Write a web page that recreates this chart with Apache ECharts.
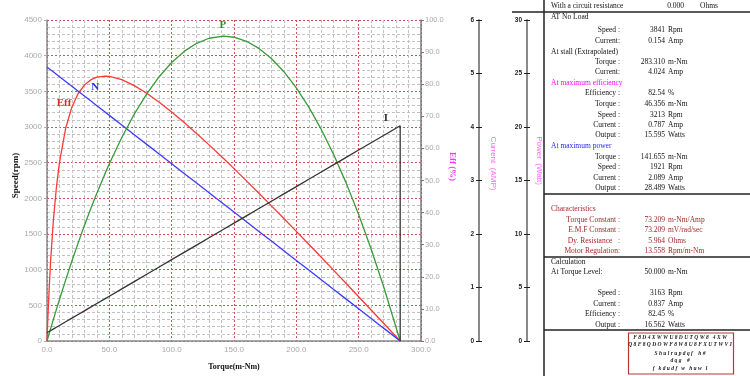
<!DOCTYPE html>
<html>
<head>
<meta charset="utf-8">
<script src="https://cdn.jsdelivr.net/npm/echarts@6/dist/echarts.min.js"></script>
<style>
  html, body { margin: 0; padding: 0; background: #fff; }
  #chart { width: 750px; height: 376px; }
</style>
</head>
<body>
<div id="chart"></div>
<script>
// torque samples (m-Nm) and the curves read at them
const torque = [0, 0.5, 1, 2, 3, 5, 7.5, 10, 15, 20, 25, 30, 35, 40, 46.356, 50, 60, 70, 80, 90, 100,
  110, 120, 130, 141.655, 150, 160, 170, 180, 190, 200, 210, 220, 230, 240, 250, 260, 270, 283.31];
const speed = [3841, 3834.2, 3827.4, 3813.9, 3800.3, 3773.2, 3739.3, 3705.4, 3637.6, 3569.8, 3502.1,
  3434.3, 3366.5, 3298.7, 3212.5, 3163.1, 3027.5, 2891.9, 2756.4, 2620.8, 2485.2, 2349.6, 2214.0,
  2078.5, 1920.5, 1807.3, 1671.7, 1536.1, 1400.6, 1265.0, 1129.4, 993.8, 858.2, 722.7, 587.1, 451.5,
  315.9, 180.3, 0];
const current = [0.154, 0.1608, 0.1677, 0.1813, 0.1950, 0.2223, 0.2564, 0.2906, 0.3589, 0.4272, 0.4955,
  0.5638, 0.6321, 0.7004, 0.7872, 0.8370, 0.9736, 1.1102, 1.2468, 1.3834, 1.5199, 1.6565, 1.7931,
  1.9297, 2.0889, 2.2029, 2.3395, 2.4761, 2.6127, 2.7493, 2.8859, 3.0225, 3.1591, 3.2957, 3.4323,
  3.5689, 3.7055, 3.8421, 4.024];
const power = [0, 0.2008, 0.4008, 0.7988, 1.1939, 1.9756, 2.9369, 3.8803, 5.714, 7.4766, 9.1685,
  10.789, 12.339, 13.818, 15.595, 16.562, 19.022, 21.199, 23.092, 24.701, 26.025, 27.066, 27.822,
  28.296, 28.489, 28.389, 28.010, 27.346, 26.401, 25.170, 23.654, 21.855, 19.772, 17.407, 14.755,
  11.820, 8.601, 5.098, 0];
const efficiency = [0, 5.2, 9.96, 18.35, 25.51, 37.03, 47.72, 55.64, 66.34, 72.92, 77.10, 79.74, 81.34,
  82.20, 82.54, 82.45, 81.41, 79.56, 77.17, 74.40, 71.35, 68.08, 64.65, 61.10, 56.83, 53.70, 49.89,
  46.01, 42.10, 38.15, 34.15, 30.13, 26.08, 22.01, 17.91, 13.80, 9.67, 5.53, 0];

// curve tags: [torque, value on the curve's own axis]
const tagEff = [13.7, 74];
const tagN = [38.7, 3556];
const tagP = [141, 29.5];
const tagI = [271.8, 4.17];

// right hand report panel
const headRow = ['With a circuit resistance', '0.000', 'Ohms'];
const panelRows = [
  // [y, kind, label, number, unit]
  [17.3, 'head', 'AT No Load'],
  [30.5, 'row', 'Speed :', '3841', 'Rpm'],
  [41.5, 'row', 'Current:', '0.154', 'Amp'],
  [51.7, 'head', 'At stall (Extrapolated)'],
  [62.3, 'row', 'Torque :', '283.310', 'm-Nm'],
  [72.3, 'row', 'Current:', '4.024', 'Amp'],
  [83.3, 'eff', 'At maximum efficiency'],
  [93.3, 'row', 'Efficiency :', '82.54', '%'],
  [104, 'row', 'Torque :', '46.356', 'm-Nm'],
  [115, 'row', 'Speed :', '3213', 'Rpm'],
  [125.5, 'row', 'Current :', '0.787', 'Amp'],
  [135, 'row', 'Output :', '15.595', 'Watts'],
  [145.7, 'pow', 'At maximum power'],
  [156.7, 'row', 'Torque :', '141.655', 'm-Nm'],
  [167.3, 'row', 'Speed :', '1921', 'Rpm'],
  [177.7, 'row', 'Current :', '2.089', 'Amp'],
  [188.3, 'row', 'Output :', '28.489', 'Watts'],
  [209.3, 'char', 'Characteristics'],
  [220, 'crow', 'Torque Constant :', '73.209', 'm-Nm/Amp'],
  [230, 'crow', 'E.M.F Constant :', '73.209', 'mV/rad/sec'],
  [240.7, 'crow', 'Dy. Resistance   :', '5.964', 'Ohms'],
  [251.3, 'crow', 'Motor Regulation:', '13.558', 'Rpm/m-Nm'],
  [262.5, 'head', 'Calculation'],
  [272.3, 'lrow', 'At Torque Level:', '50.000', 'm-Nm'],
  [293.3, 'row', 'Speed :', '3163', 'Rpm'],
  [304, 'row', 'Current :', '0.837', 'Amp'],
  [314, 'row', 'Efficiency :', '82.45', '%'],
  [324.7, 'row', 'Output :', '16.562', 'Watts']
];
const boxLines = [
  'F 8 D 4 X W W U 8 D U T Q W 8   4 X W',
  'Q 8 F 8 Q D O W F 8 W 8 U 8 F X U T W V I',
  'S h u l r u p d q f    h #',
  'd q g    #',
  'f   k d u d f   w   h u w   l'
];

const serif = '"Liberation Serif", "DejaVu Serif", serif';
const sans = '"Liberation Sans", Arial, sans-serif';
const headColors = { head: '#111', eff: '#ff00ff', pow: '#1f1fff', char: '#a02828' };

const graphic = [];
function txt(x, y, text, fill, align, font) {
  graphic.push({
    type: 'text', x: x, y: y, silent: true,
    style: { text: text, fill: fill, align: align, verticalAlign: 'middle', font: font }
  });
}
function hline(x1, x2, y) {
  graphic.push({ type: 'line', silent: true, shape: { x1: x1, y1: y, x2: x2, y2: y },
    style: { stroke: '#222', lineWidth: 1.4 } });
}
const pf = '7.5px ' + serif;
txt(551, 5.7, headRow[0], '#111', 'left', pf);
txt(684, 5.7, headRow[1], '#111', 'right', pf);
txt(700, 5.7, headRow[2], '#111', 'left', pf);
panelRows.forEach(function (r) {
  const y = r[0], kind = r[1];
  if (headColors[kind]) { txt(551, y, r[2], headColors[kind], 'left', pf); return; }
  const col = kind === 'crow' ? '#a02828' : '#111';
  if (kind === 'lrow') txt(551, y, r[2], col, 'left', pf);
  else txt(620, y, r[2], col, 'right', pf);
  txt(665, y, r[3], col, 'right', pf);
  txt(668, y, r[4], col, 'left', pf);
});
graphic.push({ type: 'line', silent: true, shape: { x1: 544, y1: 0, x2: 544, y2: 376 },
  style: { stroke: '#222', lineWidth: 1.5 } });
hline(512, 750, 12);
hline(544, 750, 194);
hline(544, 750, 257);
hline(544, 750, 330);
graphic.push({ type: 'rect', silent: true, shape: { x: 628.5, y: 333, width: 105, height: 41 },
  style: { fill: null, stroke: '#b03a3a', lineWidth: 1.2 } });
const boxY = [337.3, 345, 353.3, 360.7, 368.3];
boxLines.forEach(function (t, i) {
  txt(680, boxY[i], t, '#222', 'center', 'italic bold 5.5px ' + serif);
});

function pairs(ys) { return torque.map(function (t, i) { return [t, ys[i]]; }); }
const currentData = pairs(current);
currentData.push([torque[torque.length - 1], 0]);

function tag(coord, text, color) {
  return {
    silent: true, symbol: 'rect', symbolSize: 1, itemStyle: { color: 'rgba(0,0,0,0)' },
    label: { show: true, position: 'inside', formatter: text, color: color,
      fontFamily: serif, fontSize: 11, fontWeight: 'bold' },
    data: [{ coord: coord }]
  };
}

const grayLabel = { color: '#a8a8a8', fontSize: 8, fontFamily: sans };
const minorGrid = { show: true, lineStyle: { color: '#c2c2c2', type: [3, 2], width: 1 } };
const majorGrid = { show: true, lineStyle: { color: '#d05050', type: [2, 2], width: 1 } };

function sideAxis(offset, max, interval, name, gap, pad, withLabel) {
  return {
    type: 'value', position: 'right', offset: offset, min: 0, max: max, interval: interval,
    name: withLabel ? name : '', nameLocation: 'middle', nameRotate: -90, nameGap: gap,
    nameTextStyle: { color: '#ff66ff', fontSize: 8, fontFamily: sans, padding: [0, pad, 0, 0] },
    axisLine: { show: withLabel, lineStyle: { color: '#8a8a8a', width: 2 } },
    axisTick: { show: true, inside: !withLabel, length: 3, lineStyle: { color: '#222' } },
    axisLabel: { show: withLabel, inside: true, margin: 5, color: '#222', fontSize: 6.5,
      fontWeight: 'bold', fontFamily: sans },
    splitLine: { show: false }
  };
}

const chart = echarts.init(document.getElementById('chart'));
chart.setOption({
  animation: false,
  backgroundColor: '#fff',
  grid: { left: 47, right: 329, top: 20, bottom: 32, containLabel: false },
  xAxis: {
    type: 'value', min: 0, max: 300, interval: 50,
    name: 'Torque(m-Nm)', nameLocation: 'middle', nameGap: 22,
    nameTextStyle: { color: '#111', fontSize: 8, fontWeight: 'bold', fontFamily: serif },
    axisLine: { lineStyle: { color: '#8a8a8a', width: 1.5 } },
    axisTick: { show: false },
    axisLabel: Object.assign({ margin: 5, formatter: function (v) { return v.toFixed(1); } }, grayLabel),
    splitLine: majorGrid,
    minorTick: { show: false, splitNumber: 5 },
    minorSplitLine: minorGrid
  },
  yAxis: [
    {
      type: 'value', position: 'left', min: 0, max: 4500, interval: 500,
      name: 'Speed(rpm)', nameLocation: 'middle', nameRotate: 90, nameGap: 27,
      nameTextStyle: { color: '#111', fontSize: 9, fontWeight: 'bold', fontFamily: serif, padding: [0, 0, 0, 10] },
      axisLine: { show: true, lineStyle: { color: '#8a8a8a', width: 1.5 } },
      axisTick: { show: true, length: 3, lineStyle: { color: '#aaa' } },
      axisLabel: Object.assign({ margin: 5, formatter: function (v) { return String(v); } }, grayLabel),
      splitLine: majorGrid,
      minorTick: { show: false, splitNumber: 5 },
      minorSplitLine: minorGrid
    },
    {
      type: 'value', position: 'right', offset: 0, min: 0, max: 100, interval: 10,
      name: 'Eff (%)', nameLocation: 'middle', nameRotate: -90, nameGap: 22,
      nameTextStyle: { color: '#ff33ff', fontSize: 9, fontWeight: 'bold', fontFamily: serif, padding: [0, 28, 0, 0] },
      axisLine: { show: true, lineStyle: { color: '#7a7a7a', width: 1.5 } },
      axisTick: { show: true, length: 3, lineStyle: { color: '#7a7a7a' } },
      axisLabel: { margin: 4, color: '#a8a8a8', fontSize: 7.5, fontFamily: sans,
        formatter: function (v) { return v.toFixed(1); } },
      splitLine: { show: false }
    },
    sideAxis(58, 6, 1, 'Current  (AMP)', 10, 34, true),
    sideAxis(58, 6, 1, '', 10, 0, false),
    sideAxis(106, 30, 5, 'Power  (Watt)', 8, 40, true),
    sideAxis(106, 30, 5, '', 8, 0, false)
  ],
  graphic: graphic,
  series: [
    {
      name: 'Eff', type: 'line', yAxisIndex: 1, data: pairs(efficiency), showSymbol: false,
      lineStyle: { color: '#ff3838', width: 1.3 }, itemStyle: { color: '#ff3838' },
      markPoint: tag(tagEff, 'Eff', '#e02828')
    },
    {
      name: 'N', type: 'line', yAxisIndex: 0, data: pairs(speed), showSymbol: false,
      lineStyle: { color: '#3c3cff', width: 1.3 }, itemStyle: { color: '#3c3cff' },
      markPoint: tag(tagN, 'N', '#2a2aff')
    },
    {
      name: 'P', type: 'line', yAxisIndex: 4, data: pairs(power), showSymbol: false,
      lineStyle: { color: '#3a9a3a', width: 1.3 }, itemStyle: { color: '#3a9a3a' },
      markPoint: tag(tagP, 'P', '#2f8f2f')
    },
    {
      name: 'I', type: 'line', yAxisIndex: 2, data: currentData, showSymbol: false,
      lineStyle: { color: '#333', width: 1.3 }, itemStyle: { color: '#333' },
      markPoint: tag(tagI, 'I', '#333')
    }
  ]
});
</script>
</body>
</html>
